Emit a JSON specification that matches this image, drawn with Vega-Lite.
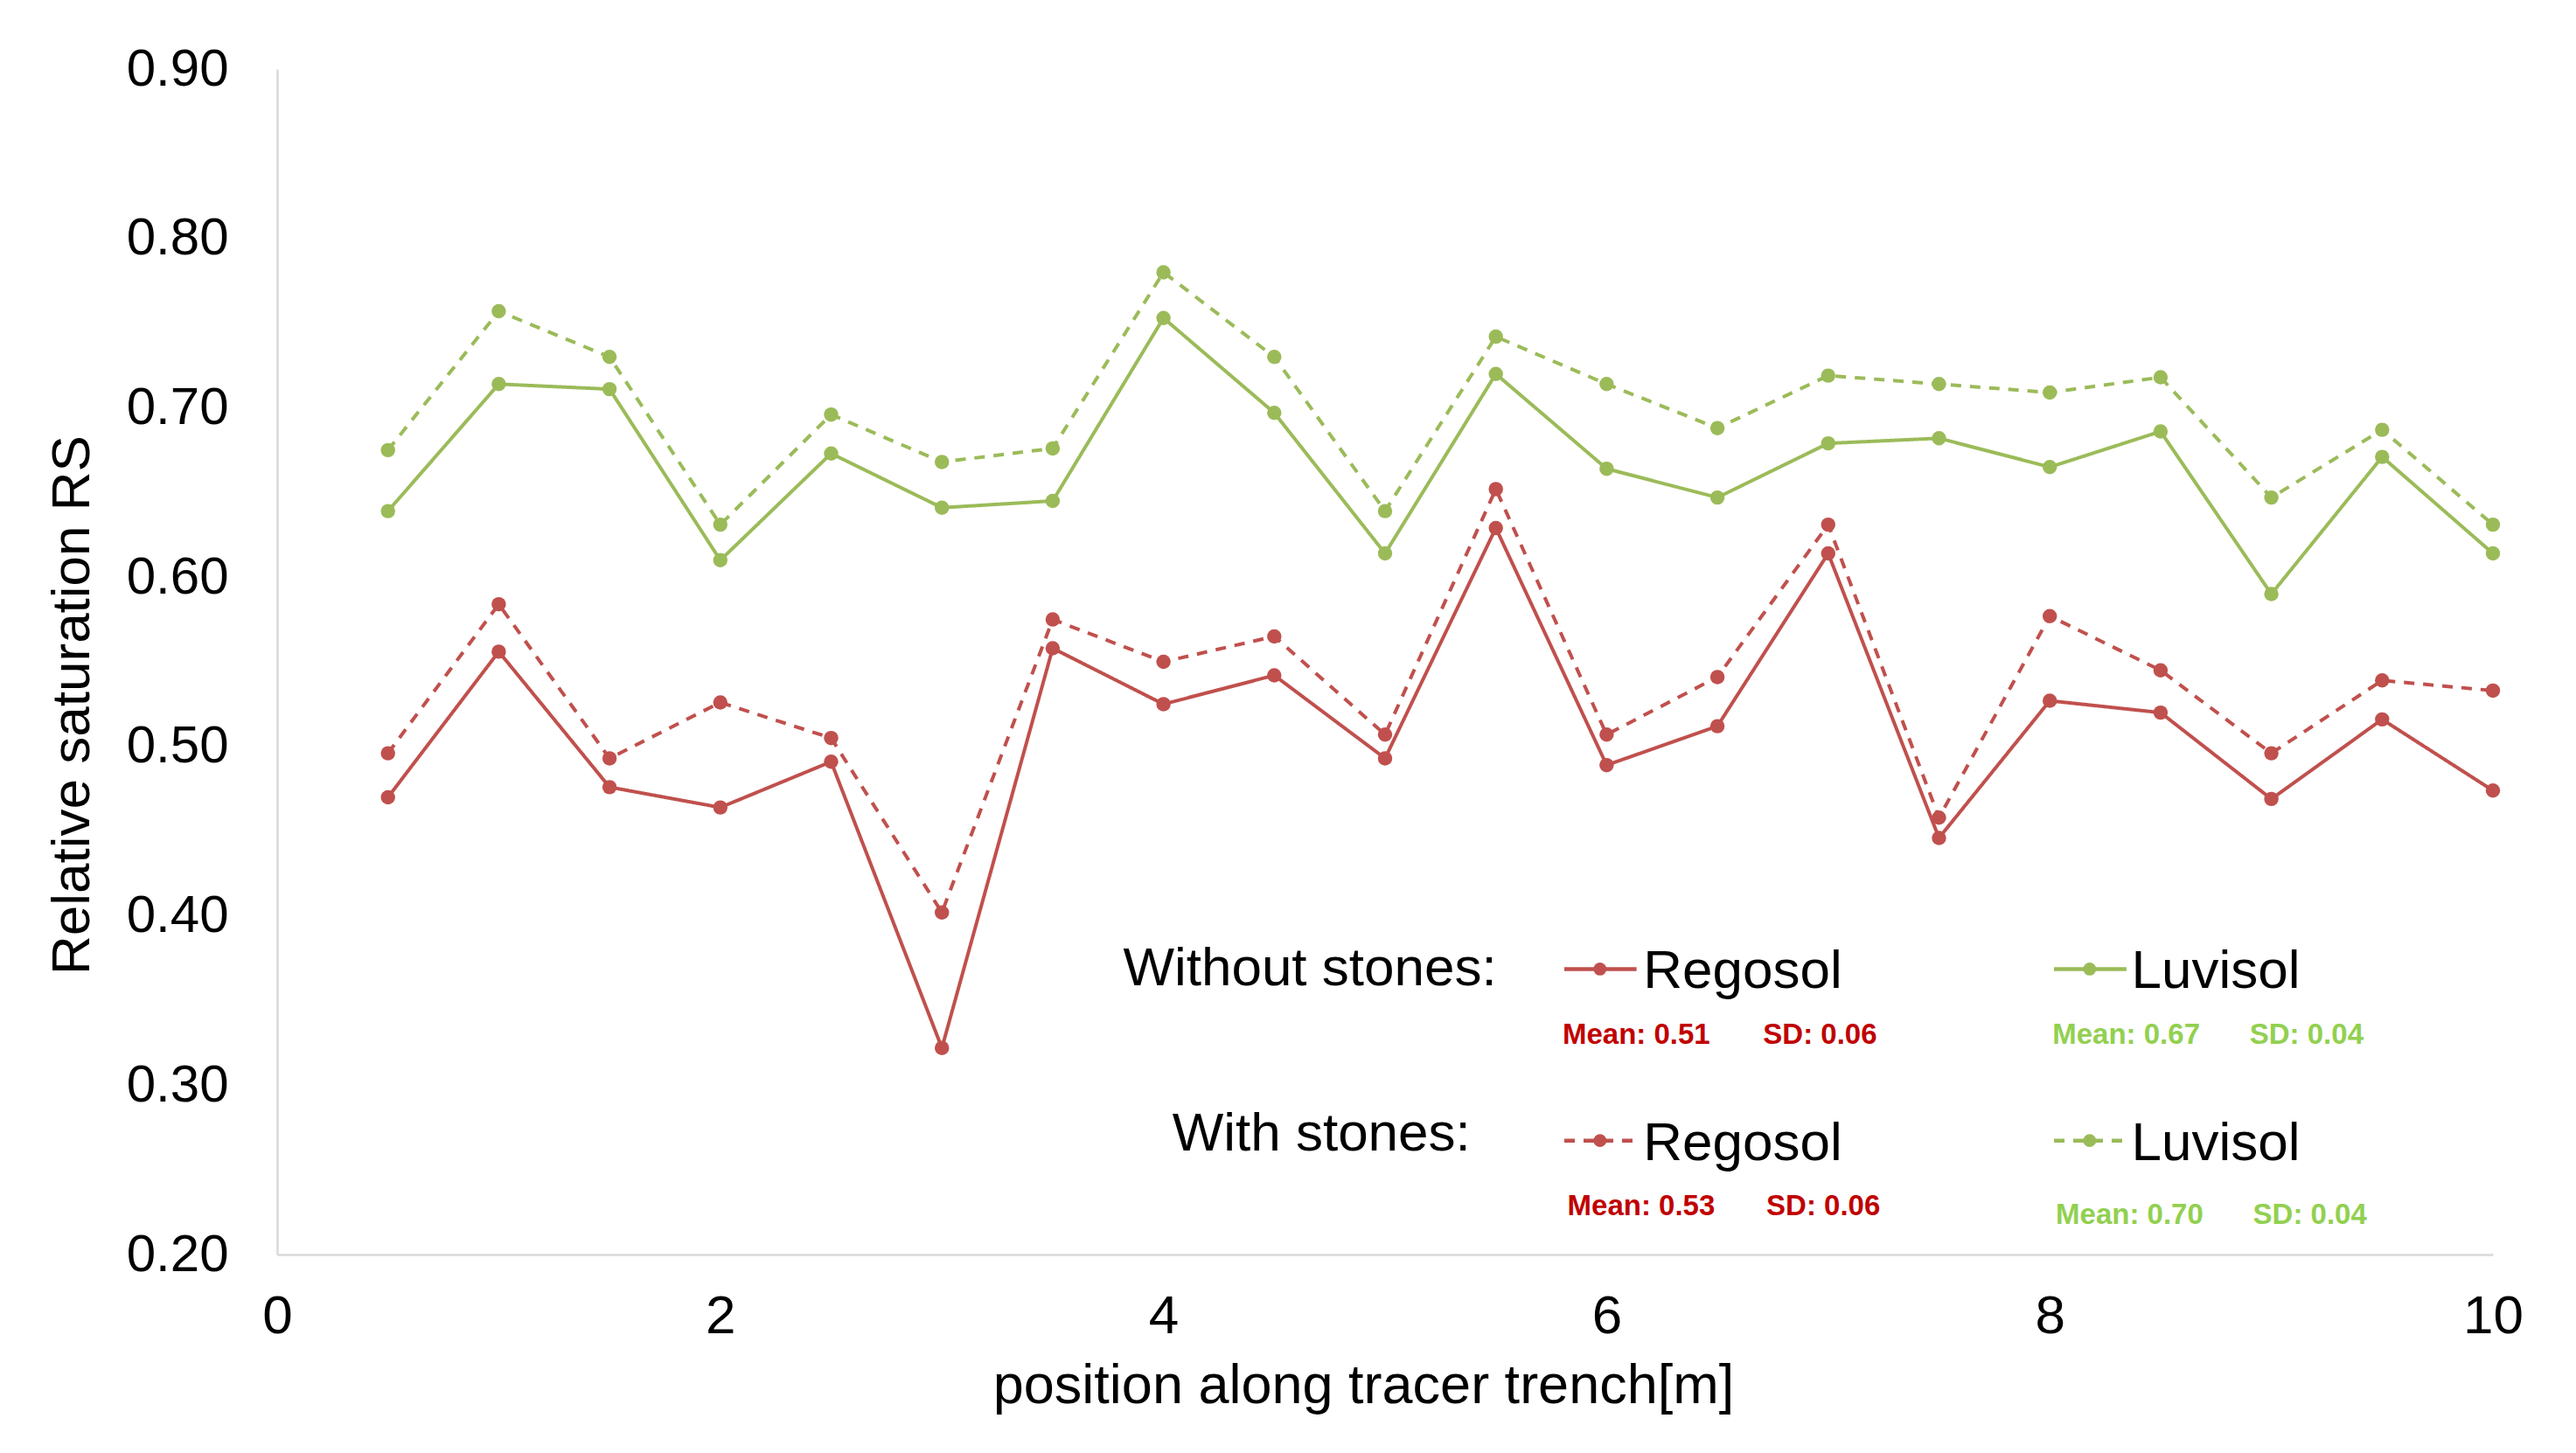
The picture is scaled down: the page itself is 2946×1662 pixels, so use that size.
{
  "$schema": "https://vega.github.io/schema/vega-lite/v6.json",
  "autosize": "none",
  "width": 2534,
  "height": 1356,
  "padding": {"left": 317, "top": 79, "right": 95, "bottom": 227},
  "background": "white",
  "config": {
    "view": {"stroke": null},
    "font": "Liberation Sans",
    "axis": {"grid": false, "ticks": false, "tickSize": 0, "labelFlush": false, "domainColor": "#D9D9D9", "domainWidth": 2.5, "labelColor": "#000000", "titleColor": "#000000", "labelFont": "Liberation Sans", "titleFont": "Liberation Sans", "titleFontWeight": "normal"}
  },
  "datasets": {
    "series": [
      {"x": 0.5, "soil": "Regosol", "stones": "without", "rs": 0.470},
      {"x": 1.0, "soil": "Regosol", "stones": "without", "rs": 0.556},
      {"x": 1.5, "soil": "Regosol", "stones": "without", "rs": 0.476},
      {"x": 2.0, "soil": "Regosol", "stones": "without", "rs": 0.464},
      {"x": 2.5, "soil": "Regosol", "stones": "without", "rs": 0.491},
      {"x": 3.0, "soil": "Regosol", "stones": "without", "rs": 0.322},
      {"x": 3.5, "soil": "Regosol", "stones": "without", "rs": 0.558},
      {"x": 4.0, "soil": "Regosol", "stones": "without", "rs": 0.525},
      {"x": 4.5, "soil": "Regosol", "stones": "without", "rs": 0.542},
      {"x": 5.0, "soil": "Regosol", "stones": "without", "rs": 0.493},
      {"x": 5.5, "soil": "Regosol", "stones": "without", "rs": 0.629},
      {"x": 6.0, "soil": "Regosol", "stones": "without", "rs": 0.489},
      {"x": 6.5, "soil": "Regosol", "stones": "without", "rs": 0.512},
      {"x": 7.0, "soil": "Regosol", "stones": "without", "rs": 0.614},
      {"x": 7.5, "soil": "Regosol", "stones": "without", "rs": 0.446},
      {"x": 8.0, "soil": "Regosol", "stones": "without", "rs": 0.527},
      {"x": 8.5, "soil": "Regosol", "stones": "without", "rs": 0.520},
      {"x": 9.0, "soil": "Regosol", "stones": "without", "rs": 0.469},
      {"x": 9.5, "soil": "Regosol", "stones": "without", "rs": 0.516},
      {"x": 10.0, "soil": "Regosol", "stones": "without", "rs": 0.474},
      {"x": 0.5, "soil": "Regosol", "stones": "with", "rs": 0.496},
      {"x": 1.0, "soil": "Regosol", "stones": "with", "rs": 0.584},
      {"x": 1.5, "soil": "Regosol", "stones": "with", "rs": 0.493},
      {"x": 2.0, "soil": "Regosol", "stones": "with", "rs": 0.526},
      {"x": 2.5, "soil": "Regosol", "stones": "with", "rs": 0.505},
      {"x": 3.0, "soil": "Regosol", "stones": "with", "rs": 0.402},
      {"x": 3.5, "soil": "Regosol", "stones": "with", "rs": 0.575},
      {"x": 4.0, "soil": "Regosol", "stones": "with", "rs": 0.550},
      {"x": 4.5, "soil": "Regosol", "stones": "with", "rs": 0.565},
      {"x": 5.0, "soil": "Regosol", "stones": "with", "rs": 0.507},
      {"x": 5.5, "soil": "Regosol", "stones": "with", "rs": 0.652},
      {"x": 6.0, "soil": "Regosol", "stones": "with", "rs": 0.507},
      {"x": 6.5, "soil": "Regosol", "stones": "with", "rs": 0.541},
      {"x": 7.0, "soil": "Regosol", "stones": "with", "rs": 0.631},
      {"x": 7.5, "soil": "Regosol", "stones": "with", "rs": 0.458},
      {"x": 8.0, "soil": "Regosol", "stones": "with", "rs": 0.577},
      {"x": 8.5, "soil": "Regosol", "stones": "with", "rs": 0.545},
      {"x": 9.0, "soil": "Regosol", "stones": "with", "rs": 0.496},
      {"x": 9.5, "soil": "Regosol", "stones": "with", "rs": 0.539},
      {"x": 10.0, "soil": "Regosol", "stones": "with", "rs": 0.533},
      {"x": 0.5, "soil": "Luvisol", "stones": "without", "rs": 0.639},
      {"x": 1.0, "soil": "Luvisol", "stones": "without", "rs": 0.714},
      {"x": 1.5, "soil": "Luvisol", "stones": "without", "rs": 0.711},
      {"x": 2.0, "soil": "Luvisol", "stones": "without", "rs": 0.610},
      {"x": 2.5, "soil": "Luvisol", "stones": "without", "rs": 0.673},
      {"x": 3.0, "soil": "Luvisol", "stones": "without", "rs": 0.641},
      {"x": 3.5, "soil": "Luvisol", "stones": "without", "rs": 0.645},
      {"x": 4.0, "soil": "Luvisol", "stones": "without", "rs": 0.753},
      {"x": 4.5, "soil": "Luvisol", "stones": "without", "rs": 0.697},
      {"x": 5.0, "soil": "Luvisol", "stones": "without", "rs": 0.614},
      {"x": 5.5, "soil": "Luvisol", "stones": "without", "rs": 0.720},
      {"x": 6.0, "soil": "Luvisol", "stones": "without", "rs": 0.664},
      {"x": 6.5, "soil": "Luvisol", "stones": "without", "rs": 0.647},
      {"x": 7.0, "soil": "Luvisol", "stones": "without", "rs": 0.679},
      {"x": 7.5, "soil": "Luvisol", "stones": "without", "rs": 0.682},
      {"x": 8.0, "soil": "Luvisol", "stones": "without", "rs": 0.665},
      {"x": 8.5, "soil": "Luvisol", "stones": "without", "rs": 0.686},
      {"x": 9.0, "soil": "Luvisol", "stones": "without", "rs": 0.590},
      {"x": 9.5, "soil": "Luvisol", "stones": "without", "rs": 0.671},
      {"x": 10.0, "soil": "Luvisol", "stones": "without", "rs": 0.614},
      {"x": 0.5, "soil": "Luvisol", "stones": "with", "rs": 0.675},
      {"x": 1.0, "soil": "Luvisol", "stones": "with", "rs": 0.757},
      {"x": 1.5, "soil": "Luvisol", "stones": "with", "rs": 0.730},
      {"x": 2.0, "soil": "Luvisol", "stones": "with", "rs": 0.631},
      {"x": 2.5, "soil": "Luvisol", "stones": "with", "rs": 0.696},
      {"x": 3.0, "soil": "Luvisol", "stones": "with", "rs": 0.668},
      {"x": 3.5, "soil": "Luvisol", "stones": "with", "rs": 0.676},
      {"x": 4.0, "soil": "Luvisol", "stones": "with", "rs": 0.780},
      {"x": 4.5, "soil": "Luvisol", "stones": "with", "rs": 0.730},
      {"x": 5.0, "soil": "Luvisol", "stones": "with", "rs": 0.639},
      {"x": 5.5, "soil": "Luvisol", "stones": "with", "rs": 0.742},
      {"x": 6.0, "soil": "Luvisol", "stones": "with", "rs": 0.714},
      {"x": 6.5, "soil": "Luvisol", "stones": "with", "rs": 0.688},
      {"x": 7.0, "soil": "Luvisol", "stones": "with", "rs": 0.719},
      {"x": 7.5, "soil": "Luvisol", "stones": "with", "rs": 0.714},
      {"x": 8.0, "soil": "Luvisol", "stones": "with", "rs": 0.709},
      {"x": 8.5, "soil": "Luvisol", "stones": "with", "rs": 0.718},
      {"x": 9.0, "soil": "Luvisol", "stones": "with", "rs": 0.647},
      {"x": 9.5, "soil": "Luvisol", "stones": "with", "rs": 0.687},
      {"x": 10.0, "soil": "Luvisol", "stones": "with", "rs": 0.631}
    ],
    "headers": [
      {"hx": 5.504, "hy": 0.3686, "label": "Without stones:"},
      {"hx": 5.386, "hy": 0.2711, "label": "With stones:"}
    ],
    "keys": [
      {"x1": 5.809, "x2": 6.135, "xm": 5.97, "ky": 0.3686, "nx": 6.165, "soil": "Regosol", "stones": "without"},
      {"x1": 8.019, "x2": 8.346, "xm": 8.18, "ky": 0.3686, "nx": 8.368, "soil": "Luvisol", "stones": "without"},
      {"x1": 5.809, "x2": 6.135, "xm": 5.97, "ky": 0.2673, "nx": 6.165, "soil": "Regosol", "stones": "with"},
      {"x1": 8.019, "x2": 8.346, "xm": 8.18, "ky": 0.2673, "nx": 8.368, "soil": "Luvisol", "stones": "with"}
    ],
    "stats": [
      {"sx": 5.801, "sy": 0.3296, "label": "Mean: 0.51", "soil": "Regosol"},
      {"sx": 6.706, "sy": 0.3296, "label": "SD: 0.06", "soil": "Regosol"},
      {"sx": 8.012, "sy": 0.3296, "label": "Mean: 0.67", "soil": "Luvisol"},
      {"sx": 8.902, "sy": 0.3296, "label": "SD: 0.04", "soil": "Luvisol"},
      {"sx": 5.823, "sy": 0.2283, "label": "Mean: 0.53", "soil": "Regosol"},
      {"sx": 6.721, "sy": 0.2283, "label": "SD: 0.06", "soil": "Regosol"},
      {"sx": 8.027, "sy": 0.2234, "label": "Mean: 0.70", "soil": "Luvisol"},
      {"sx": 8.917, "sy": 0.2234, "label": "SD: 0.04", "soil": "Luvisol"}
    ]
  },
  "layer": [
    {
      "data": {"name": "series"},
      "mark": {"type": "line", "strokeWidth": 4, "point": {"filled": true, "size": 270, "opacity": 1}},
      "encoding": {
        "x": {"field": "x", "type": "quantitative",
              "scale": {"domain": [0, 10], "nice": false, "zero": false},
              "axis": {"values": [0, 2, 4, 6, 8, 10], "format": "d", "labelFontSize": 62, "labelPadding": 40, "title": "position along tracer trench[m]", "titleFontSize": 63, "titlePadding": 18, "titleX": 1242}},
        "y": {"field": "rs", "type": "quantitative",
              "scale": {"domain": [0.2, 0.9], "nice": false, "zero": false},
              "axis": {"values": [0.2, 0.3, 0.4, 0.5, 0.6, 0.7, 0.8, 0.9], "format": ".2f", "labelFontSize": 60, "labelPadding": 56, "title": "Relative saturation RS", "titleFontSize": 62, "titlePadding": 30, "titleY": 727}},
        "color": {"field": "soil", "type": "nominal", "scale": {"domain": ["Regosol", "Luvisol"], "range": ["#C0504D", "#9BBB59"]}, "legend": null},
        "strokeDash": {"field": "stones", "type": "nominal", "scale": {"domain": ["without", "with"], "range": [[1, 0], [12, 10]]}, "legend": null}
      }
    },
    {
      "data": {"name": "keys"},
      "mark": {"type": "rule", "strokeWidth": 4.5},
      "encoding": {
        "x": {"field": "x1", "type": "quantitative"},
        "x2": {"field": "x2"},
        "y": {"field": "ky", "type": "quantitative"},
        "color": {"field": "soil", "type": "nominal", "legend": null},
        "strokeDash": {"field": "stones", "type": "nominal", "legend": null}
      }
    },
    {
      "data": {"name": "keys"},
      "mark": {"type": "point", "filled": true, "size": 220, "opacity": 1},
      "encoding": {
        "x": {"field": "xm", "type": "quantitative"},
        "y": {"field": "ky", "type": "quantitative"},
        "color": {"field": "soil", "type": "nominal", "legend": null}
      }
    },
    {
      "data": {"name": "keys"},
      "mark": {"type": "text", "align": "left", "baseline": "middle", "fontSize": 62, "color": "#000000", "dy": 3},
      "encoding": {
        "x": {"field": "nx", "type": "quantitative"},
        "y": {"field": "ky", "type": "quantitative"},
        "text": {"field": "soil"}
      }
    },
    {
      "data": {"name": "headers"},
      "mark": {"type": "text", "align": "right", "baseline": "middle", "fontSize": 62, "color": "#000000"},
      "encoding": {
        "x": {"field": "hx", "type": "quantitative"},
        "y": {"field": "hy", "type": "quantitative"},
        "text": {"field": "label"}
      }
    },
    {
      "data": {"name": "stats"},
      "transform": [{"filter": "datum.soil === 'Regosol'"}],
      "mark": {"type": "text", "align": "left", "baseline": "middle", "fontSize": 33, "fontWeight": "bold", "color": "#C00000"},
      "encoding": {
        "x": {"field": "sx", "type": "quantitative"},
        "y": {"field": "sy", "type": "quantitative"},
        "text": {"field": "label"}
      }
    },
    {
      "data": {"name": "stats"},
      "transform": [{"filter": "datum.soil === 'Luvisol'"}],
      "mark": {"type": "text", "align": "left", "baseline": "middle", "fontSize": 33, "fontWeight": "bold", "color": "#92D050"},
      "encoding": {
        "x": {"field": "sx", "type": "quantitative"},
        "y": {"field": "sy", "type": "quantitative"},
        "text": {"field": "label"}
      }
    }
  ]
}
